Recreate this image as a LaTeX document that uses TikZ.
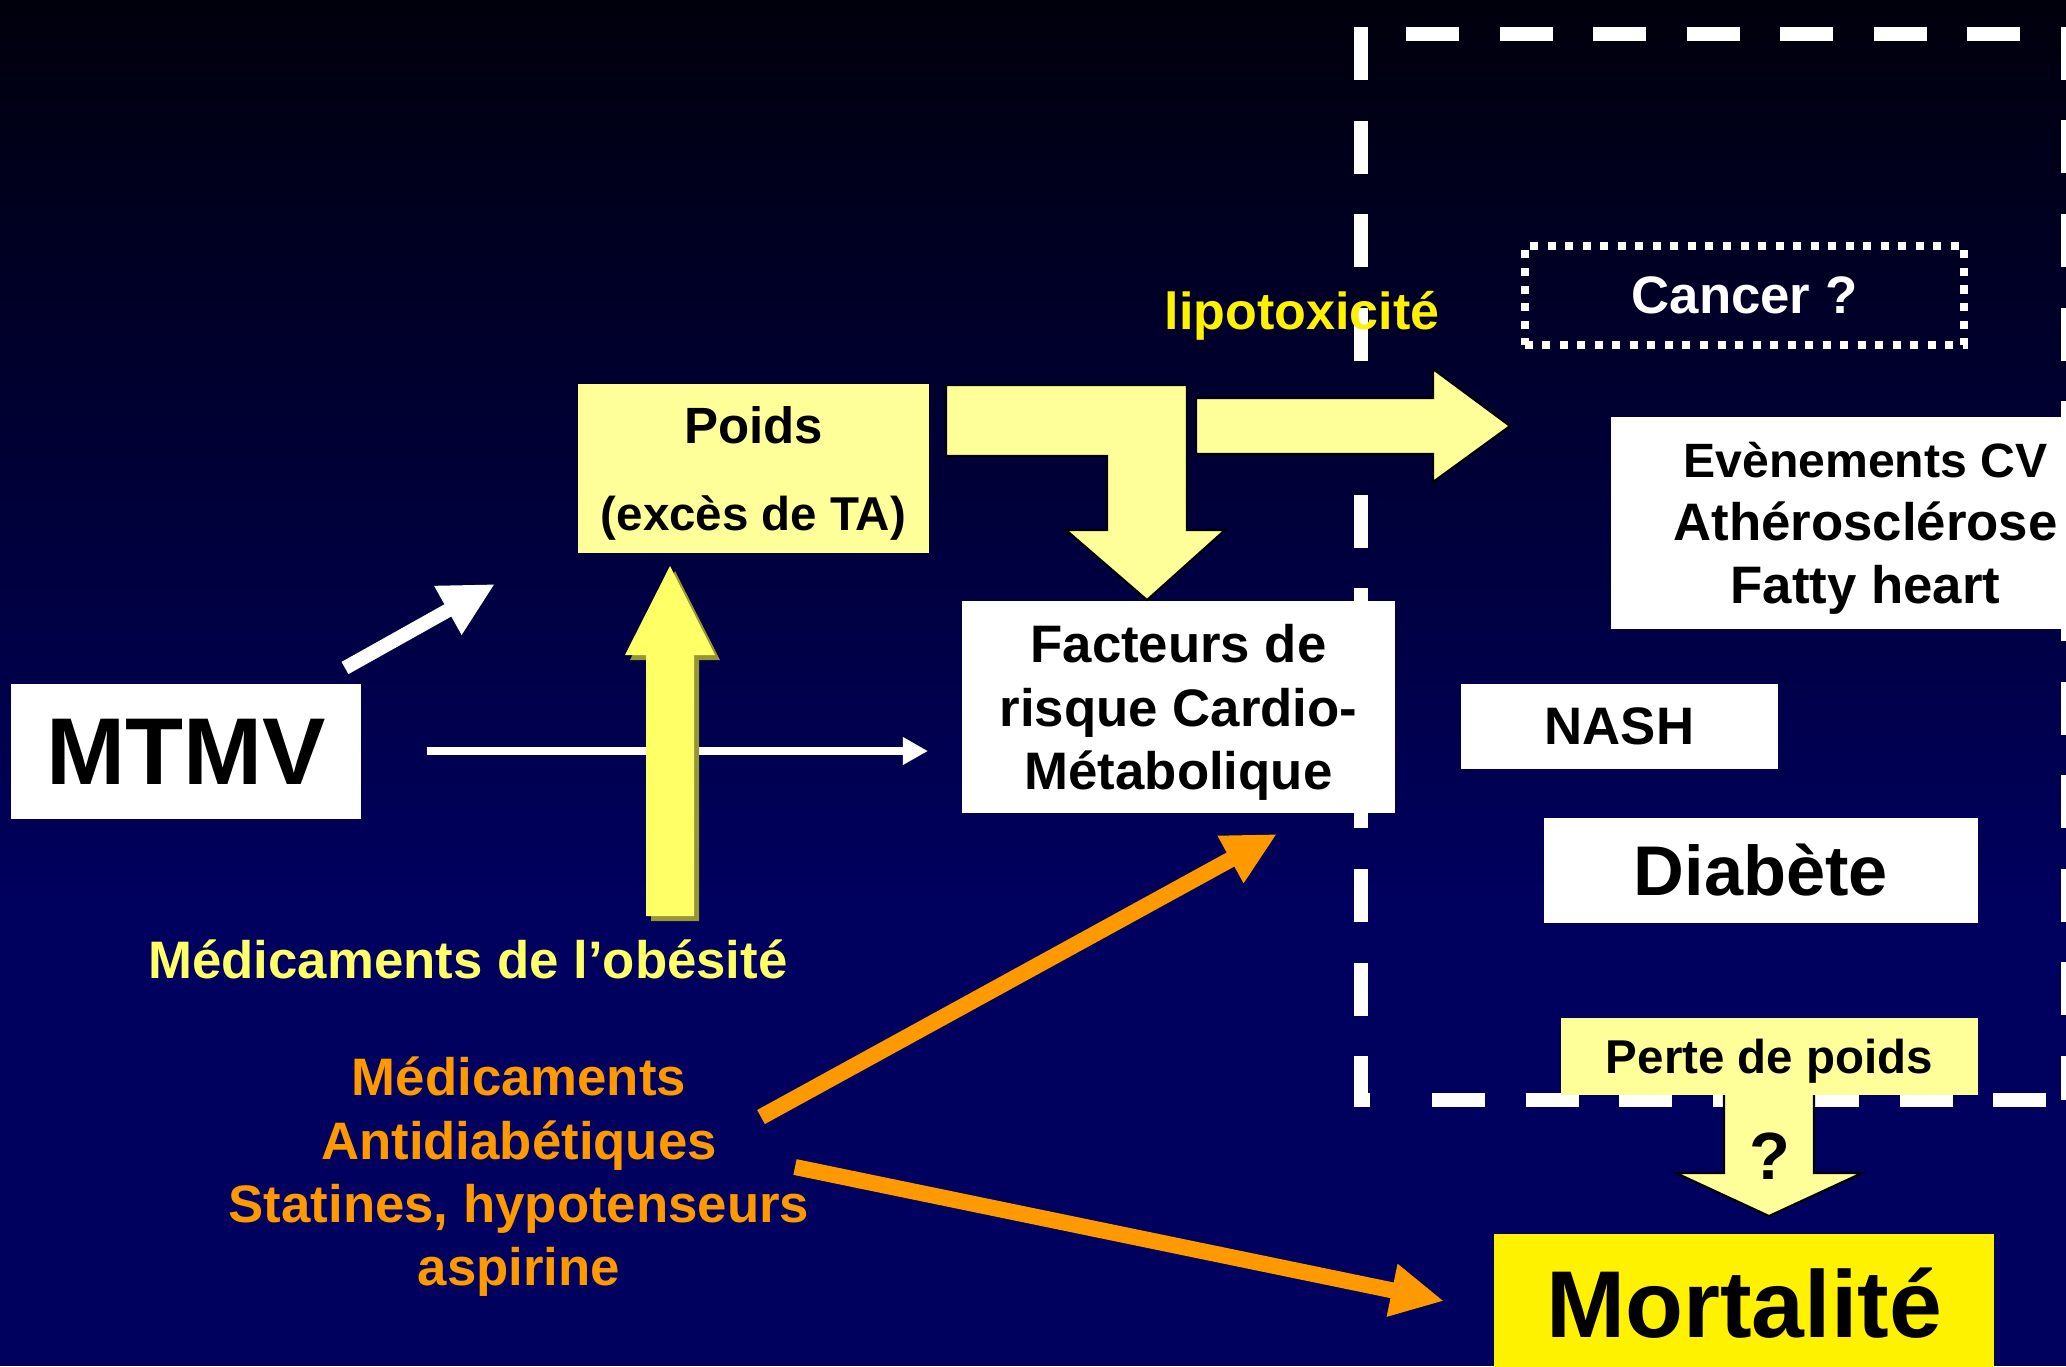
\documentclass[tikz,border=0pt]{standalone}
\usepackage{fontspec}
\setmainfont{Liberation Sans}
\usetikzlibrary{positioning,arrows.meta,calc}

\definecolor{navytop}{RGB}{0,0,12}
\definecolor{navybot}{RGB}{0,0,94}
\definecolor{paleyel}{RGB}{255,255,153}
\definecolor{obesyel}{RGB}{255,255,102}
\definecolor{medorange}{RGB}{255,153,0}
\definecolor{olive}{RGB}{150,150,50}

\begin{document}
\begin{tikzpicture}[x=0.01cm,y=-0.01cm,
    box/.style={fill=white, inner sep=0pt, align=center, font=\bfseries\fontsize{15}{18}\selectfont},
    yelbox/.style={box, fill=paleyel},
    frame/.style={white, line width=0.14cm, dash pattern=on 0.53cm off 0.405cm},
    fatarrow/.style={fill=paleyel, draw=black, line width=0.6pt, line join=miter},
    medarrow/.style={draw=medorange, line width=0.16cm, -{Triangle[length=0.53cm,width=0.50cm]}}]
    \useasboundingbox (0,0) rectangle (2066,1366);
    \clip (0,0) rectangle (2066,1366);
    \shade[top color=navytop, bottom color=navybot] (0,0) rectangle (2066,900);
    \fill[navybot] (0,899) rectangle (2066,1366);
    % cadre en tirets
    \draw[frame] (1361,27) -- (1361,1100) -- (1390,1100);
    \draw[frame] (1432,1100) -- (2068,1100);
    \draw[frame] (1406,34) -- (2068,34) -- (2068,1100);

    \node[box, minimum width=3.50cm, minimum height=1.35cm, font=\bfseries\fontsize{27}{30}\selectfont] (mtmv) at (186,751.5) {MTMV};
    \node[yelbox, text depth=0pt, minimum width=3.51cm, minimum height=1.69cm, font=\bfseries\fontsize{14.5}{24.5}\selectfont] (poids) at (753.5,468.5) {Poids\\{\fontsize{13.5}{24.5}\selectfont (excès de TA)}};
    \node[box, text depth=0pt, minimum width=4.33cm, minimum height=2.12cm] (facteurs) at (1178.5,707) {Facteurs de\\risque Cardio-\\Métabolique};
    \node[box, fill=none, draw=white, text=white, line width=0.08cm, dash pattern=on 0.08cm off 0.095cm, minimum width=4.39cm, minimum height=0.98cm] (cancer) at (1744.5,295.5) {Cancer ?};
    \node[box, text depth=-0.02cm, minimum width=5.09cm, minimum height=2.12cm] (cv) at (1865.5,523) {{\fontsize{13.7}{18}\selectfont Evènements CV}\\Athérosclérose\\Fatty heart};
    \node[box, minimum width=3.17cm, minimum height=0.85cm] (nash) at (1619.5,726.5) {NASH};
    \node[box, minimum width=4.34cm, minimum height=1.05cm, font=\bfseries\fontsize{20}{24}\selectfont] (diabete) at (1761,870.5) {Diabète};
    \node[box, fill=yellow, minimum width=5.00cm, minimum height=1.38cm, font=\bfseries\fontsize{27}{30}\selectfont] (mort) at (1744,1303) {Mortalité};

    \node[anchor=base, text=yellow, font=\bfseries\fontsize{14.8}{18}\selectfont] (lipo) at (1302,329) {lipotoxicité};
    \node[anchor=base, text=obesyel, font=\bfseries\fontsize{15}{18}\selectfont] (obes) at (468,978) {Médicaments de l’obésité};
    \node[text=medorange, align=center, font=\bfseries\fontsize{15}{18}\selectfont] (meds) at (519,1177) {Médicaments\\Antidiabétiques\\Statines, hypotenseurs\\aspirine};

    % fleches blanches
    \coordinate (wA) at (345,668); \coordinate (wB) at (495,584);
    \coordinate (hA) at (427,751); \coordinate (hB) at (928,751);
    \draw[white, line width=0.14cm, -{Triangle[length=0.54cm,width=0.52cm]}] (wA) -- (wB);
    \draw[white, line width=0.08cm, -{Triangle[length=0.25cm,width=0.26cm]}] (hA) -- (hB);

    % fleche jaune (medicaments de l'obesite)
    \fill[olive] (651,921) -- (651,660) -- (630,660) -- (675,571) -- (720,660) -- (699,660) -- (699,921) -- cycle;
    \fill[obesyel] (646,916) -- (646,655) -- (625,655) -- (670,566) -- (715,655) -- (694,655) -- (694,916) -- cycle;

    % grosses fleches
    \draw[fatarrow] (946,385) -- (1187,385) -- (1187,530) -- (1225,530) -- (1147,600) -- (1066,530) -- (1107,530) -- (1107,456) -- (946,456) -- cycle;
    \draw[fatarrow] (1196,398) -- (1433,398) -- (1433,369) -- (1510,426) -- (1433,482) -- (1433,454) -- (1196,454) -- cycle;
    \draw[fatarrow] (1724,1080) -- (1724,1173) -- (1676,1173) -- (1769,1216) -- (1862,1173) -- (1814,1173) -- (1814,1080) -- cycle;

    \node[yelbox, text depth=0pt, minimum width=4.17cm, minimum height=0.77cm, font=\bfseries\fontsize{13.5}{16}\selectfont] (perte) at (1769.5,1056.5) {Perte de poids};
    \node[font=\bfseries\fontsize{19}{22}\selectfont] (qmark) at ($(perte.south)+(0,60)$) {?};

    % fleches orange
    \coordinate (oA) at (761,1117); \coordinate (oB) at (1277,834);
    \coordinate (oC) at (795,1167); \coordinate (oD) at (1444,1301);
    \draw[medarrow] (oA) -- (oB);
    \draw[medarrow] (oC) -- (oD);
\end{tikzpicture}
\end{document}
